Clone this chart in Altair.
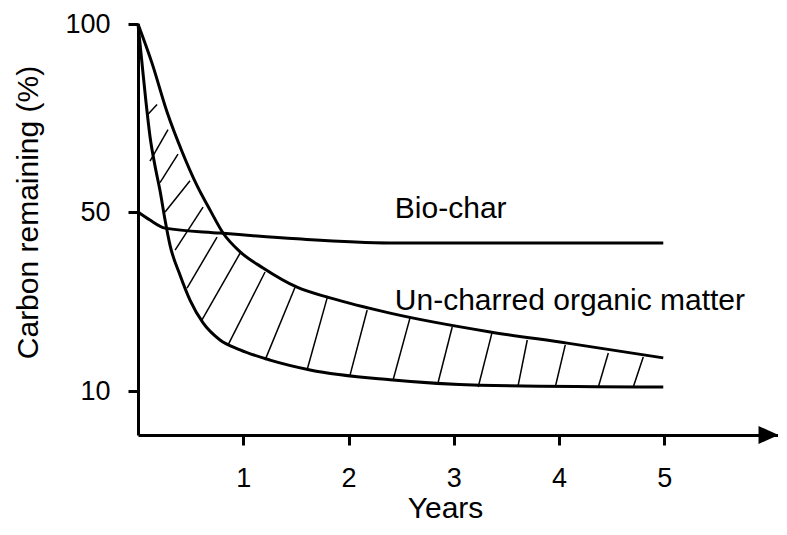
import altair as alt
import pandas as pd

# ---- data (years, % carbon remaining) ----
upper_years = [0.0, 0.133, 0.276, 0.418, 0.561, 0.685, 0.808, 0.970, 1.188,
               1.511, 1.825, 2.395, 3.346, 4.078, 4.990]
upper_carbon = [100.0, 89.6, 76.6, 66.1, 57.0, 50.5, 45.3, 41.1, 37.5,
                33.2, 30.8, 27.4, 23.2, 20.7, 17.4]

lower_years = [0.0, 0.038, 0.076, 0.114, 0.162, 0.209, 0.257, 0.304, 0.399,
               0.494, 0.618, 0.779, 0.970, 1.255, 1.635, 2.395, 3.251, 4.990]
lower_carbon = [100.0, 89.6, 79.2, 70.1, 62.2, 55.7, 48.2, 42.6, 35.9,
                30.3, 25.2, 21.4, 19.2, 16.9, 14.7, 12.5, 11.3, 10.9]

biochar_years = [0.0, 0.114, 0.257, 0.779, 1.511, 2.395, 4.990]
biochar_carbon = [50.0, 48.2, 46.4, 45.3, 44.0, 43.1, 43.1]

# hatch segments: from the lower curve (x1, y1) to the upper curve (x2, y2)
hatch_x1 = [0.095, 0.114, 0.209, 0.257, 0.352, 0.466, 0.608, 0.856, 1.207, 1.606,
            2.015, 2.424, 2.852, 3.232, 3.612, 3.964, 4.373, 4.705]
hatch_y1 = [76.0, 63.5, 57.8, 50.0, 41.5, 33.0, 25.9, 20.3, 16.9, 14.7,
            13.6, 12.5, 12.0, 10.9, 11.3, 10.9, 10.9, 10.9]
hatch_x2 = [0.181, 0.285, 0.380, 0.494, 0.618, 0.751, 0.970, 1.207, 1.492, 1.797,
            2.177, 2.586, 2.985, 3.365, 3.698, 4.059, 4.468, 4.800]
hatch_y2 = [78.6, 71.9, 65.4, 58.3, 51.3, 44.4, 40.8, 36.6, 33.2, 30.8,
            28.1, 26.5, 24.3, 23.2, 21.4, 20.3, 18.5, 17.6]

label_text = ["Bio-char", "Un-charred organic matter"]
label_year = [2.44, 2.44]
label_carbon = [48.7, 28.1]

x_ticks = [1, 2, 3, 4, 5]
y_ticks = [10, 50, 100]

FONT = "Liberation Sans"

curves = pd.concat([
    pd.DataFrame({"year": upper_years, "carbon": upper_carbon, "series": "upper"}),
    pd.DataFrame({"year": lower_years, "carbon": lower_carbon, "series": "lower"}),
    pd.DataFrame({"year": biochar_years, "carbon": biochar_carbon, "series": "biochar"}),
], ignore_index=True)

hatch = pd.DataFrame({"x1": hatch_x1, "y1": hatch_y1, "x2": hatch_x2, "y2": hatch_y2})
labels = pd.DataFrame({"label": label_text, "year": label_year, "carbon": label_carbon})
arrow = pd.DataFrame({"year": [5.99], "carbon": [0.2]})

x_scale = alt.Scale(domain=[0, 6.08], nice=False, zero=False)
y_scale = alt.Scale(domain=[0.2, 10, 50, 100], range=[411, 367, 188, 0], nice=False, zero=False)

x_axis = alt.Axis(values=x_ticks, title="Years", tickSize=10, labelPadding=20,
                  titleX=307, titleY=73, titleBaseline="middle", titleAlign="center")
y_axis = alt.Axis(values=y_ticks, title="Carbon remaining (%)", tickSize=10, labelPadding=18,
                  titleX=-110, titleY=188, titleAngle=270, titleBaseline="middle",
                  titleAlign="center")

lines = alt.Chart(curves).mark_line(color="black", strokeWidth=3, interpolate="monotone").encode(
    x=alt.X("year:Q", scale=x_scale, axis=x_axis),
    y=alt.Y("carbon:Q", scale=y_scale, axis=y_axis),
    detail="series:N",
)

hatch_rules = alt.Chart(hatch).mark_rule(color="black", strokeWidth=1.5).encode(
    x=alt.X("x1:Q", scale=x_scale, axis=x_axis),
    y=alt.Y("y1:Q", scale=y_scale, axis=y_axis),
    x2="x2:Q",
    y2="y2:Q",
)

text = alt.Chart(labels).mark_text(
    font=FONT, fontSize=30, align="left", baseline="alphabetic", color="black"
).encode(
    x=alt.X("year:Q", scale=x_scale, axis=x_axis),
    y=alt.Y("carbon:Q", scale=y_scale, axis=y_axis),
    text="label:N",
)

arrow_head = alt.Chart(arrow).mark_point(
    shape="M-1,-0.9L1,0L-1,0.9Z", filled=True, size=400, color="black", opacity=1, strokeWidth=0
).encode(
    x=alt.X("year:Q", scale=x_scale, axis=x_axis),
    y=alt.Y("carbon:Q", scale=y_scale, axis=y_axis),
)

chart = alt.layer(lines, hatch_rules, text, arrow_head).properties(
    width=640,
    height=411,
    autosize=alt.AutoSizeParams(type="none"),
    padding={"left": 130, "top": 16, "right": 0, "bottom": 92},
).configure_view(stroke=None).configure_axis(
    grid=False,
    domainColor="black",
    domainWidth=3,
    tickColor="black",
    tickWidth=3,
    labelFont=FONT,
    labelFontSize=27,
    labelColor="black",
    titleFont=FONT,
    titleFontSize=30,
    titleFontWeight="normal",
    titleColor="black",
)

chart.save("out.html", embed_options={"renderer": "svg", "actions": False})
